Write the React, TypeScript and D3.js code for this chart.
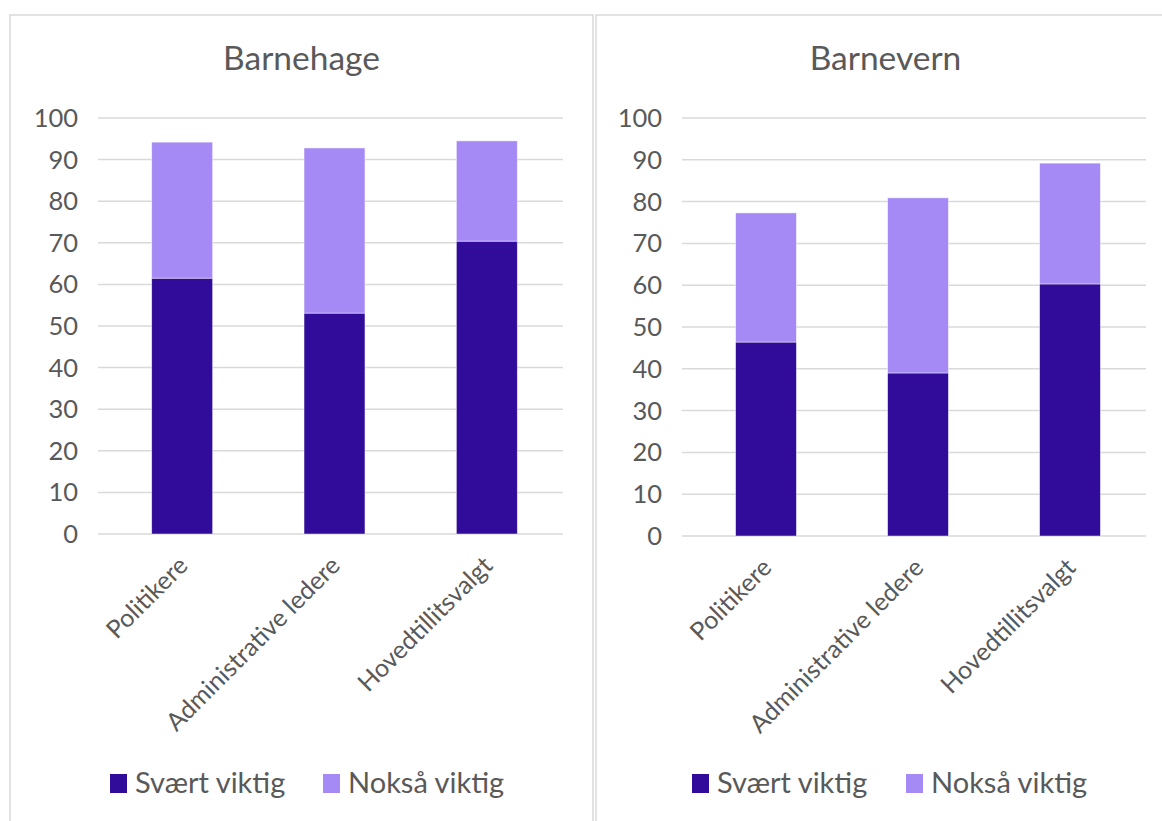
import React from "react";
import * as d3 from "d3";

const categories = ["Politikere", "Administrative ledere", "Hovedtillitsvalgt"];
const seriesNames = ["Svært viktig", "Nokså viktig"];
const seriesColors = ["#310B99", "#A58AF5"];
const barnehageSvaert = [61.5, 53.1, 70.4];
const barnehageNoksaa = [32.7, 39.7, 24.1];
const barnevernSvaert = [46.4, 39.0, 60.3];
const barnevernNoksaa = [30.9, 41.9, 28.9];
const yTicks = [0, 10, 20, 30, 40, 50, 60, 70, 80, 90, 100];

const panels = [
  { title: "Barnehage", svaert: barnehageSvaert, noksaa: barnehageNoksaa },
  { title: "Barnevern", svaert: barnevernSvaert, noksaa: barnevernNoksaa },
];

const FONT = "Lato, 'Open Sans', sans-serif";
const TEXT = "#595959";
const GRID = "#d9d9d9";

function Panel({ title, svaert, noksaa, y0, y100, plotL, plotR, legendX, titleX }: any) {
  const x = d3.scaleBand<string>().domain(categories).range([plotL, plotR]).paddingInner(0.6).paddingOuter(0.3);
  const y = d3.scaleLinear().domain([0, 100]).range([y0, y100]);
  const rows = categories.map((c, i) => ({ c, s: svaert[i], n: noksaa[i] }));
  const stack = d3.stack<any>().keys(["s", "n"])(rows);
  const cx = (c: string) => (x(c) as number) + x.bandwidth() / 2;
  return (
    <g>
      <text x={titleX} y={70} textAnchor="middle" fontSize={33.5} fill={TEXT} fontFamily={FONT}>{title}</text>
      {yTicks.map((t) => (
        <g key={t}>
          <line x1={plotL - 8} x2={plotR} y1={y(t)} y2={y(t)} stroke={GRID} strokeWidth={1.5} />
          <text x={plotL - 28} y={y(t)} dy="0.35em" textAnchor="end" fontSize={25.5} fill={TEXT} fontFamily={FONT}>{t}</text>
        </g>
      ))}
      {stack.map((layer, si) => (
        <g key={si}>
          {layer.map((d: any, i: number) => (
            <rect key={i} x={x(categories[i])} width={x.bandwidth()} y={y(d[1])} height={y(d[0]) - y(d[1])}
              fill={seriesColors[si]} stroke="#ffffff" strokeOpacity={0.6} strokeWidth={0.75} />
          ))}
        </g>
      ))}
      {categories.map((c) => (
        <text key={c} transform={`translate(${cx(c) + 1},${y0 + 27}) rotate(-45)`} textAnchor="end" dy="0.35em"
          fontSize={25} fill={TEXT} fontFamily={FONT}>{c}</text>
      ))}
      {seriesNames.map((s, i) => (
        <g key={s} transform={`translate(${legendX[i]},783)`}>
          <rect x={0} y={-9} width={17} height={19} fill={seriesColors[i]} />
          <text x={25} y={0} dy="0.35em" fontSize={29} fill={TEXT} fontFamily={FONT}>{s}</text>
        </g>
      ))}
    </g>
  );
}

export default function App() {
  return (
    <svg width={1162} height={821} style={{ position: "absolute", left: 0, top: 0, background: "#fff" }}>
      <rect x={0} y={0} width={1162} height={821} fill="#fff" />
      <rect x={10} y={15} width={583} height={830} fill="#fff" stroke={GRID} strokeWidth={1.5} />
      <rect x={596} y={15} width={579} height={830} fill="#fff" stroke={GRID} strokeWidth={1.5} />
      <Panel {...panels[0]} y0={534} y100={118} plotL={106} plotR={563} legendX={[110, 323]} titleX={301.5} />
      <Panel {...panels[1]} y0={536} y100={118} plotL={690} plotR={1146} legendX={[692, 906]} titleX={885.5} />
    </svg>
  );
}
